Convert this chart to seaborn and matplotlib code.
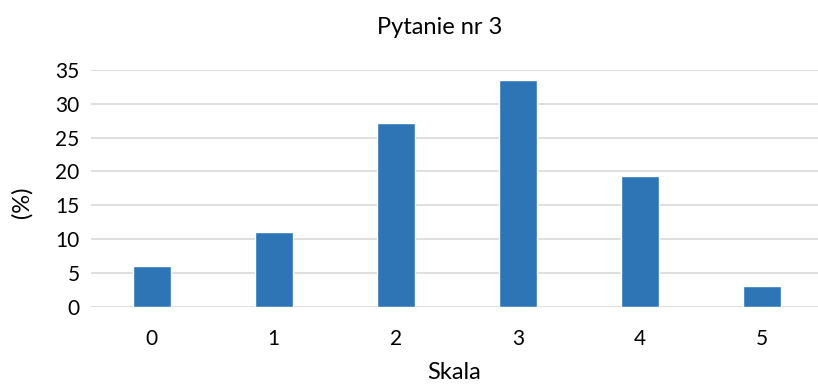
import matplotlib
matplotlib.use("Agg")
import matplotlib.pyplot as plt
import seaborn as sns
import pandas as pd

# Survey answer distribution for question 3
categories = ["0", "1", "2", "3", "4", "5"]
percentages = [6.0, 11.0, 27.1, 33.5, 19.3, 3.1]
y_ticks = [0, 5, 10, 15, 20, 25, 30, 35]

sns.set_theme(style="white")
plt.rcParams["font.family"] = ["Lato", "DejaVu Sans"]

df = pd.DataFrame({"Skala": categories, "pct": percentages})

fig = plt.figure(figsize=(8.18, 3.86), dpi=100)
ax = fig.add_axes([0.111, 0.2054, 0.895, 0.6133])

sns.barplot(data=df, x="Skala", y="pct", color="#2E75B6", saturation=1,
            width=0.31, ax=ax, zorder=3)

ax.set_ylim(0, 35)
ax.set_yticks(y_ticks)
ax.set_xlim(-0.5, len(categories) - 0.5)
ax.yaxis.grid(True, color="#d9d9d9", linewidth=1.2, zorder=0)
ax.xaxis.grid(False)
for s in ax.spines.values():
    s.set_visible(False)
ax.tick_params(axis="both", length=0, labelsize=15, colors="#000000")
ax.tick_params(axis="x", pad=16)
ax.tick_params(axis="y", pad=8)

ax.set_xlabel("")
ax.set_ylabel("")
fig.text(0.555, 0.035, "Skala", ha="center", va="center", fontsize=17,
         color="#000000")
fig.text(0.027, 0.475, "(%)", ha="center", va="center", fontsize=17,
         rotation=90, color="#000000")
fig.text(0.538, 0.93, "Pytanie nr 3", ha="center", va="center", fontsize=17,
         color="#000000")

fig.savefig("out.png", dpi=100)
